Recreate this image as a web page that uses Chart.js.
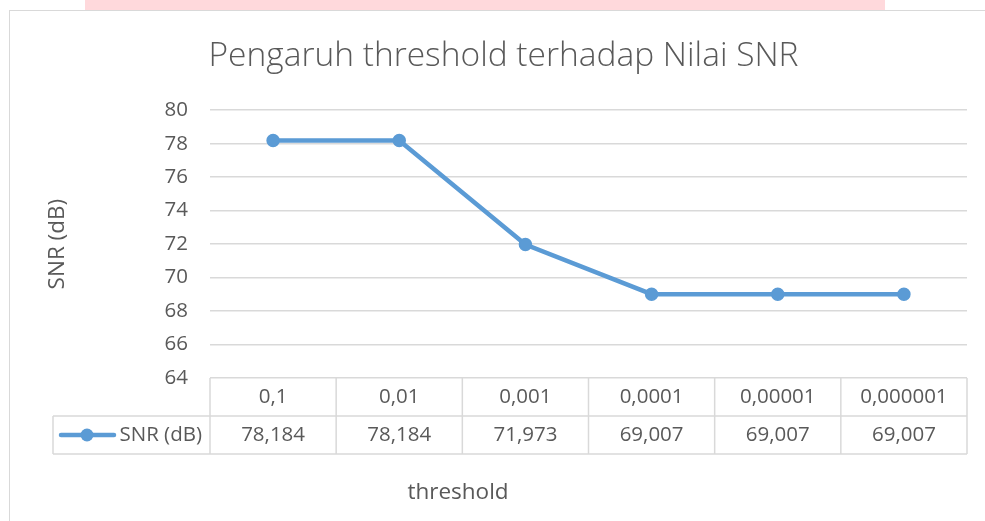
<!DOCTYPE html>
<html>
<head>
<meta charset="utf-8">
<script src="https://cdn.jsdelivr.net/npm/chart.js@4.4.1/dist/chart.umd.min.js"></script>
<style>
  html, body { margin: 0; padding: 0; background: #fff; }
  #wrap { position: relative; width: 985px; height: 521px; overflow: hidden; }
  #band { position: absolute; left: 85px; top: 0; width: 800px; height: 10px; background: #ffd9dc; }
  #frame { position: absolute; left: 9px; top: 10px; width: 1000px; height: 600px; border: 1.5px solid #d9d9d9; }
  canvas { position: absolute; left: 0; top: 0; }
</style>
</head>
<body>
<div id="wrap">
  <div id="band"></div>
  <div id="frame"></div>
  <canvas id="chart" width="985" height="521"></canvas>
</div>
<script>
const thresholds = ["0,1", "0,01", "0,001", "0,0001", "0,00001", "0,000001"];
const snrValues = [78.184, 78.184, 71.973, 69.007, 69.007, 69.007];
const seriesName = "SNR (dB)";
const yMin = 64;
const yMax = 80;
const yStep = 2;

const textColor = "#595959";
const gridColor = "#d9d9d9";
const lineColor = "#5b9bd5";
const fontFamily = "'Open Sans', sans-serif";

// data table under the plot, like Excel's "chart data table"
const dataTable = {
  id: "dataTable",
  afterDraw(chart) {
    const { ctx, chartArea: area, scales: { x } } = chart;
    const ds = chart.data.datasets[0];
    const rowH = 38;
    const r1 = area.bottom, r2 = r1 + rowH, r3 = r2 + rowH;
    const legendLeft = 53;
    const half = (x.getPixelForValue(1) - x.getPixelForValue(0)) / 2;

    ctx.save();
    ctx.strokeStyle = gridColor;
    ctx.lineWidth = 1.5;
    ctx.beginPath();
    ctx.moveTo(legendLeft, r2); ctx.lineTo(area.right, r2);
    ctx.moveTo(legendLeft, r3); ctx.lineTo(area.right, r3);
    ctx.moveTo(legendLeft, r2); ctx.lineTo(legendLeft, r3);
    for (let i = 0; i <= thresholds.length; i++) {
      const px = i < thresholds.length ? x.getPixelForValue(i) - half
                                       : x.getPixelForValue(i - 1) + half;
      ctx.moveTo(px, r1); ctx.lineTo(px, r3);
    }
    ctx.stroke();

    ctx.fillStyle = textColor;
    ctx.font = "20.5px " + fontFamily;
    ctx.textAlign = "center";
    ctx.textBaseline = "middle";
    thresholds.forEach((lab, i) => {
      const px = x.getPixelForValue(i);
      ctx.fillText(lab, px, (r1 + r2) / 2);
      ctx.fillText(ds.data[i].toFixed(3).replace(".", ","), px, (r2 + r3) / 2);
    });

    // legend key
    const ky = (r2 + r3) / 2;
    ctx.strokeStyle = ds.borderColor;
    ctx.lineWidth = ds.borderWidth;
    ctx.lineCap = "round";
    ctx.beginPath();
    ctx.moveTo(61, ky); ctx.lineTo(114, ky);
    ctx.stroke();
    ctx.fillStyle = ds.pointBackgroundColor;
    ctx.beginPath();
    ctx.arc(87, ky, ds.pointRadius + 0.5, 0, Math.PI * 2);
    ctx.fill();
    ctx.fillStyle = textColor;
    ctx.textAlign = "right";
    ctx.fillText(seriesName, x.left - 8, ky);

    // x axis title
    ctx.font = "22.5px " + fontFamily;
    ctx.textAlign = "center";
    ctx.fillText("threshold", 458, 493);
    ctx.restore();
  }
};

new Chart(document.getElementById("chart"), {
  type: "line",
  data: {
    labels: thresholds,
    datasets: [{
      label: seriesName,
      data: snrValues,
      borderColor: lineColor,
      backgroundColor: lineColor,
      pointBackgroundColor: lineColor,
      pointBorderColor: lineColor,
      borderWidth: 4.5,
      pointRadius: 6,
      pointBorderWidth: 1.5,
      tension: 0
    }]
  },
  options: {
    responsive: false,
    animation: false,
    layout: { padding: { left: 40, right: 18, top: 0, bottom: 0 } },
    plugins: {
      legend: { display: false },
      tooltip: { enabled: false },
      title: {
        display: true,
        text: "Pengaruh threshold terhadap Nilai SNR",
        color: textColor,
        font: { family: fontFamily, size: 33.5, weight: 300 },
        padding: { top: 36, bottom: 34 }
      }
    },
    scales: {
      x: {
        offset: true,
        grid: { display: false },
        border: { display: false },
        ticks: { display: false },
        afterFit(scale) { scale.height = 143; }
      },
      y: {
        min: yMin,
        max: yMax,
        ticks: {
          stepSize: yStep,
          color: textColor,
          padding: 22,
          font: { family: fontFamily, size: 20.5 }
        },
        grid: { color: gridColor, lineWidth: 1.5, drawTicks: false },
        border: { display: false },
        title: {
          display: true,
          text: "SNR (dB)",
          color: textColor,
          font: { family: fontFamily, size: 22.5 },
          padding: { top: 4, bottom: 0 }
        },
        afterFit(scale) { scale.width = 170; }
      }
    }
  },
  plugins: [dataTable]
});
</script>
</body>
</html>
